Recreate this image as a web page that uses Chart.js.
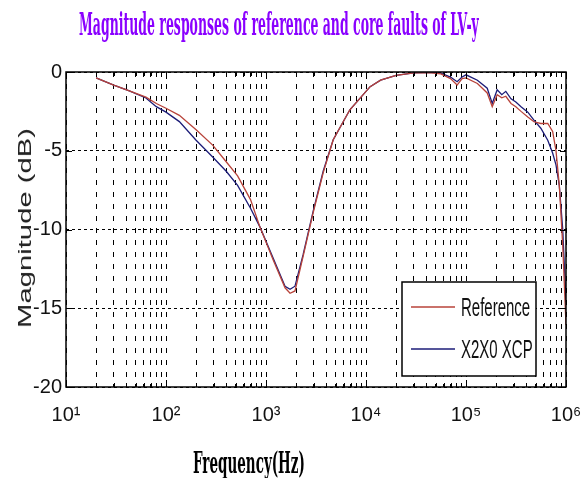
<!DOCTYPE html>
<html>
<head>
<meta charset="utf-8">
<script src="https://cdn.jsdelivr.net/npm/chart.js@4.4.1/dist/chart.umd.min.js"></script>
<style>
  html, body { margin: 0; padding: 0; background: #fff; }
  #wrap { position: relative; width: 581px; height: 478px; overflow: hidden; }
  #chart { position: absolute; left: 0; top: 0; }
  .lbl { position: absolute; white-space: nowrap; line-height: 30px; }
  #title { left: 79px; top: 6px; font: bold 31px "DejaVu Serif", serif; color: #8a00ff; transform-origin: 0 0; }
  #xtitle { left: 193px; top: 445px; font: bold 30px "DejaVu Serif", serif; color: #000; transform-origin: 0 0; }
  #ytitle { left: 25px; top: 228px; font: 18px "Liberation Sans", Arial, sans-serif; color: #222; line-height: 18px; }
</style>
</head>
<body>
<div id="wrap">
  <canvas id="chart" width="581" height="478"></canvas>
  <div id="title" class="lbl">Magnitude responses of reference and core faults of LV-y</div>
  <div id="xtitle" class="lbl">Frequency(Hz)</div>
  <div id="ytitle" class="lbl">Magnitude (dB)</div>
</div>
<script>
// frequency points (Hz)
const freqHz = [20, 30, 43, 63, 80, 100, 136, 200, 293, 400, 520, 700, 871, 1175, 1550, 1740, 1950,
  2350, 2960, 3730, 4700, 6900, 11000, 14000, 20000, 30000, 45000, 56000, 70000, 81500, 91400,
  100000, 130000, 163000, 183000, 205000, 228000, 250000, 282000, 315000, 355000, 415000, 478000,
  560000, 657000, 735000, 794000, 857000, 927000, 1000000];

// magnitude (dB)
const refDb = [-0.37, -0.83, -1.2, -1.6, -2.0, -2.3, -2.75, -3.67, -4.64, -5.7, -6.6, -8.1, -9.85, -11.9,
  -13.7, -14.05, -13.9, -11.7, -8.95, -6.4, -4.3, -2.4, -0.93, -0.52, -0.22, -0.05, -0.05, -0.12,
  -0.42, -0.83, -0.42, -0.37, -0.73, -1.33, -2.2, -1.44, -1.64, -1.54, -2.0, -2.2, -2.5, -2.86, -3.16,
  -3.27, -3.27, -3.77, -4.99, -7.2, -10.98, -16.06];
const xcpDb = [-0.37, -0.83, -1.2, -1.65, -2.2, -2.55, -3.15, -4.33, -5.4, -6.3, -7.2, -8.65, -9.85, -11.8,
  -13.6, -13.8, -13.6, -11.6, -8.85, -6.3, -4.3, -2.4, -0.93, -0.52, -0.22, -0.05, -0.03, -0.07,
  -0.32, -0.62, -0.32, -0.18, -0.52, -1.03, -2.0, -1.13, -1.44, -1.23, -1.7, -1.9, -2.2, -2.55, -3.06,
  -3.57, -4.33, -5.14, -5.9, -7.2, -9.97, -14.6];

const seriesNames = ['Reference', 'X2X0 XCP'];
const seriesColors = ['#b8433a', '#1c1c78'];

const decades = [10, 100, 1000, 10000, 100000, 1000000];
const decadeLabels = ['10¹', '10²', '10³', '10⁴', '10⁵', '10⁶'];
const yTicks = [0, -5, -10, -15, -20];

const xGrid = [];
decades.forEach(d => {
  for (let m = 1; m <= 9; m++) {
    if (d * m <= 1000000) xGrid.push(d * m);
  }
});

function toPoints(ys) {
  return freqHz.map((f, i) => ({ x: f, y: ys[i] }));
}

// short inward ticks + full box round the plot
const framePlugin = {
  id: 'frame',
  afterDatasetsDraw(chart) {
    const { ctx, chartArea: a, scales: { x, y } } = chart;
    ctx.save();
    ctx.strokeStyle = '#000';
    ctx.lineWidth = 1;
    ctx.beginPath();
    x.ticks.forEach(t => {
      const px = Math.round(x.getPixelForValue(t.value)) + 0.5;
      const len = decades.includes(t.value) ? 7 : 4;
      ctx.moveTo(px, a.bottom); ctx.lineTo(px, a.bottom - len);
      ctx.moveTo(px, a.top); ctx.lineTo(px, a.top + len);
    });
    y.ticks.forEach(t => {
      const py = Math.round(y.getPixelForValue(t.value)) + 0.5;
      ctx.moveTo(a.left, py); ctx.lineTo(a.left + 6, py);
      ctx.moveTo(a.right, py); ctx.lineTo(a.right - 6, py);
    });
    ctx.stroke();
    ctx.lineWidth = 1.5;
    ctx.strokeRect(a.left, a.top, a.right - a.left, a.bottom - a.top);
    ctx.restore();
  }
};

// boxed legend in the lower right of the plot
const boxLegend = {
  id: 'boxLegend',
  afterDraw(chart) {
    const { ctx, chartArea: a } = chart;
    const bx = a.right - 164, by = a.top + 210, bw = 134, bh = 94;
    ctx.save();
    ctx.fillStyle = '#fff';
    ctx.fillRect(bx, by, bw, bh);
    ctx.strokeStyle = '#000';
    ctx.lineWidth = 1.5;
    ctx.strokeRect(bx, by, bw, bh);
    chart.data.datasets.forEach((ds, i) => {
      const ly = by + 25 + i * 42;
      ctx.strokeStyle = ds.borderColor;
      ctx.lineWidth = 1.3;
      ctx.beginPath();
      ctx.moveTo(bx + 9, ly);
      ctx.lineTo(bx + 53, ly);
      ctx.stroke();
      ctx.save();
      ctx.translate(bx + 59, ly + 2);
      ctx.scale(0.6, 1);
      ctx.fillStyle = '#111';
      ctx.font = '25px "Liberation Sans", Arial, sans-serif';
      ctx.textBaseline = 'middle';
      ctx.fillText(ds.label, 0, 0);
      ctx.restore();
    });
    ctx.restore();
  }
};

new Chart(document.getElementById('chart').getContext('2d'), {
  type: 'line',
  data: {
    datasets: [
      { label: seriesNames[0], data: toPoints(refDb), borderColor: seriesColors[0], borderWidth: 1.3, pointRadius: 0, tension: 0 },
      { label: seriesNames[1], data: toPoints(xcpDb), borderColor: seriesColors[1], borderWidth: 1.3, pointRadius: 0, tension: 0 }
    ]
  },
  options: {
    responsive: false,
    devicePixelRatio: 1,
    animation: false,
    layout: { padding: { left: 0, top: 72, right: 15, bottom: 0 } },
    plugins: { legend: { display: false }, tooltip: { enabled: false } },
    scales: {
      x: {
        type: 'logarithmic',
        min: 10,
        max: 1000000,
        afterBuildTicks: axis => { axis.ticks = xGrid.map(v => ({ value: v })); },
        afterFit: axis => {
          axis.height = 91;
          axis.paddingLeft = 0;
          axis.paddingRight = 0;
        },
        ticks: {
          autoSkip: false,
          maxRotation: 0,
          padding: 16,
          color: '#111',
          font: { family: '"Liberation Sans Narrow", "Liberation Sans", Arial', size: 20 },
          callback: v => {
            const i = decades.indexOf(v);
            return i >= 0 ? decadeLabels[i] : '';
          }
        },
        grid: { color: '#000', lineWidth: 1, drawTicks: false },
        border: { display: false, dash: [5, 7] }
      },
      y: {
        min: -20,
        max: 0,
        afterBuildTicks: axis => { axis.ticks = yTicks.map(v => ({ value: v })); },
        afterFit: axis => {
          axis.width = 66;
          axis.paddingTop = 0;
          axis.paddingBottom = 0;
        },
        ticks: {
          padding: 4,
          color: '#111',
          font: { family: '"Liberation Sans Narrow", "Liberation Sans", Arial', size: 20 }
        },
        grid: { color: '#000', lineWidth: 1, drawTicks: false },
        border: { display: false, dash: [3, 3] }
      }
    }
  },
  plugins: [framePlugin, boxLegend]
});

function squeeze(id, w) {
  const el = document.getElementById(id);
  el.style.transform = 'scaleX(' + (w / el.offsetWidth) + ')';
}
squeeze('title', 400);
squeeze('xtitle', 112);
const yt = document.getElementById('ytitle');
yt.style.transform = 'translate(-50%,-50%) rotate(-90deg) scaleX(' + (200 / yt.offsetWidth) + ')';
</script>
</body>
</html>
